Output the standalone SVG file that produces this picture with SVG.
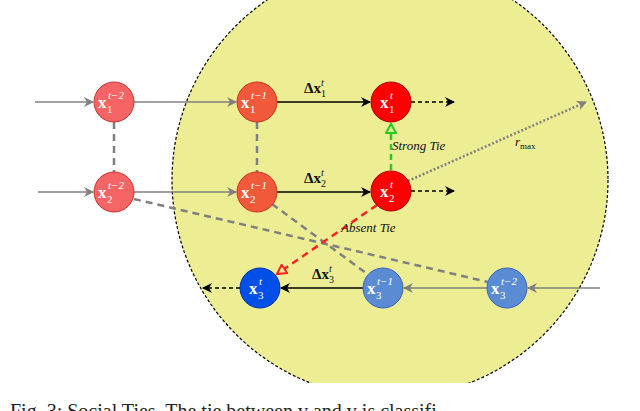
<svg xmlns="http://www.w3.org/2000/svg" width="640" height="411" viewBox="0 0 640 411">
<defs>
<style>
.n text{font-family:"Liberation Serif",serif;font-weight:bold;fill:#fff;font-size:17px}
.n text.s{font-size:11px;font-weight:normal}
.n text.p{font-size:11px;font-weight:normal;font-style:italic}
.lbl{font-family:"Liberation Serif",serif;font-style:italic;font-size:13px;fill:#111}
.d{font-family:"Liberation Serif",serif;font-weight:bold;font-size:15px;fill:#111}
</style>
<marker id="ag" markerWidth="10" markerHeight="10" refX="9" refY="5" orient="auto" markerUnits="userSpaceOnUse"><path d="M0,0 L10,5 L0,10 L3,5 Z" fill="#808080"/></marker>
<marker id="ak" markerWidth="10" markerHeight="10" refX="9" refY="5" orient="auto" markerUnits="userSpaceOnUse"><path d="M0,0 L10,5 L0,10 L3,5 Z" fill="#000"/></marker>
<marker id="agr" markerWidth="12" markerHeight="12" refX="10" refY="6" orient="auto" markerUnits="userSpaceOnUse"><path d="M1,1 L10,6 L1,11 Z" fill="#eaea90" stroke="#22cc22" stroke-width="2"/></marker>
<marker id="ard" markerWidth="12" markerHeight="12" refX="10" refY="6" orient="auto" markerUnits="userSpaceOnUse"><path d="M1,1 L10,6 L1,11 Z" fill="#eaea90" stroke="#ff2020" stroke-width="2"/></marker>
<clipPath id="cp"><rect x="0" y="0" width="640" height="383"/></clipPath>
</defs>
<rect width="640" height="411" fill="#fff"/>
<circle cx="390" cy="180" r="218" fill="#eded94" stroke="#000" stroke-width="1.2" stroke-dasharray="3,2" clip-path="url(#cp)"/>
<g id="connectors" fill="none">
<line x1="35" y1="102" x2="93" y2="102" stroke="#808080" stroke-width="1.5" marker-end="url(#ag)"/>
<line x1="38" y1="192" x2="93" y2="192" stroke="#808080" stroke-width="1.5" marker-end="url(#ag)"/>
<line x1="134" y1="102" x2="236" y2="102" stroke="#808080" stroke-width="1.5" marker-end="url(#ag)"/>
<line x1="134" y1="192" x2="236" y2="192" stroke="#808080" stroke-width="1.5" marker-end="url(#ag)"/>
<line x1="114" y1="122" x2="114" y2="172" stroke="#808080" stroke-width="2.5" stroke-dasharray="7,5"/>
<line x1="257" y1="122" x2="257" y2="172" stroke="#808080" stroke-width="2.5" stroke-dasharray="7,5"/>
<line x1="277" y1="102" x2="370" y2="102" stroke="#000" stroke-width="1.5" marker-end="url(#ak)"/>
<line x1="277" y1="192" x2="370" y2="192" stroke="#000" stroke-width="1.5" marker-end="url(#ak)"/>
<line x1="411" y1="102" x2="454" y2="102" stroke="#000" stroke-width="1.5" stroke-dasharray="4,3" marker-end="url(#ak)"/>
<line x1="411" y1="191" x2="454" y2="191" stroke="#000" stroke-width="1.5" stroke-dasharray="4,3" marker-end="url(#ak)"/>
<line x1="391" y1="170" x2="391" y2="124" stroke="#22cc22" stroke-width="2.5" stroke-dasharray="6,4" marker-end="url(#agr)"/>
<line x1="408" y1="181" x2="586" y2="102" stroke="#808080" stroke-width="2.5" stroke-dasharray="2,2" marker-end="url(#ag)"/>
<line x1="134" y1="199" x2="488" y2="282" stroke="#808080" stroke-width="2.5" stroke-dasharray="7,5"/>
<line x1="272" y1="204" x2="366" y2="273" stroke="#808080" stroke-width="2.5" stroke-dasharray="7,5"/>
<line x1="377" y1="205" x2="277" y2="274" stroke="#ff2020" stroke-width="2.5" stroke-dasharray="7,5" marker-end="url(#ard)"/>
<line x1="600" y1="288" x2="528" y2="288" stroke="#808080" stroke-width="1.5" marker-end="url(#ag)"/>
<line x1="487" y1="288" x2="404" y2="288" stroke="#808080" stroke-width="1.5" marker-end="url(#ag)"/>
<line x1="363" y1="288" x2="281" y2="288" stroke="#000" stroke-width="1.5" marker-end="url(#ak)"/>
<line x1="240" y1="288" x2="203" y2="288" stroke="#000" stroke-width="1.5" stroke-dasharray="4,3" marker-end="url(#ak)"/>
</g>
<text class="d" x="304" y="93">Δx<tspan font-size="10" dy="4" font-weight="normal">1</tspan><tspan font-size="10" dy="-11" dx="-5" font-style="italic" font-weight="normal">t</tspan></text>
<text class="d" x="304" y="183">Δx<tspan font-size="10" dy="4" font-weight="normal">2</tspan><tspan font-size="10" dy="-11" dx="-5" font-style="italic" font-weight="normal">t</tspan></text>
<text class="d" x="312" y="279">Δx<tspan font-size="10" dy="4" font-weight="normal">3</tspan><tspan font-size="10" dy="-11" dx="-5" font-style="italic" font-weight="normal">t</tspan></text>
<text class="lbl" x="392" y="150">Strong Tie</text>
<text class="lbl" x="341" y="232">Absent Tie</text>
<text class="lbl" x="515" y="146">r<tspan font-size="9" font-style="normal" dy="3">max</tspan></text>
<g id="x1t2" class="n"><circle cx="114" cy="102" r="20" fill="#f56565" stroke="#cc3333"/><text x="98" y="108">x</text><text class="p" x="108" y="99">t−2</text><text class="s" x="107" y="113">1</text></g>
<g id="x2t2" class="n"><circle cx="114" cy="192" r="20" fill="#f56565" stroke="#cc3333"/><text x="98" y="198">x</text><text class="p" x="108" y="189">t−2</text><text class="s" x="107" y="203">2</text></g>
<g id="x1t1" class="n"><circle cx="257" cy="102" r="20" fill="#f05a3a" stroke="#cc3322"/><text x="241" y="108">x</text><text class="p" x="251" y="99">t−1</text><text class="s" x="250" y="113">1</text></g>
<g id="x2t1" class="n"><circle cx="257" cy="192" r="20" fill="#f05a3a" stroke="#cc3322"/><text x="241" y="198">x</text><text class="p" x="251" y="189">t−1</text><text class="s" x="250" y="203">2</text></g>
<g id="x1t" class="n"><circle cx="391" cy="102" r="20" fill="#ff0000" stroke="#b00000"/><text x="380" y="108">x</text><text class="p" x="390" y="99">t</text><text class="s" x="389" y="113">1</text></g>
<g id="x2t" class="n"><circle cx="391" cy="191" r="20" fill="#ff0000" stroke="#b00000"/><text x="380" y="197">x</text><text class="p" x="390" y="188">t</text><text class="s" x="389" y="202">2</text></g>
<g id="x3t" class="n"><circle cx="260" cy="288" r="20" fill="#0050e8" stroke="#0033aa"/><text x="249" y="294">x</text><text class="p" x="259" y="285">t</text><text class="s" x="258" y="299">3</text></g>
<g id="x3t1" class="n"><circle cx="383" cy="288" r="20" fill="#5b8bd3" stroke="#3a66bb"/><text x="367" y="294">x</text><text class="p" x="377" y="285">t−1</text><text class="s" x="376" y="299">3</text></g>
<g id="x3t2" class="n"><circle cx="507" cy="288" r="20" fill="#5b8bd3" stroke="#3a66bb"/><text x="491" y="294">x</text><text class="p" x="501" y="285">t−2</text><text class="s" x="500" y="299">3</text></g>
<text x="10" y="418" font-family="Liberation Serif,serif" font-size="20" fill="#222">Fig. 3: Social Ties. The tie between v  and v  is classifi</text>
</svg>
